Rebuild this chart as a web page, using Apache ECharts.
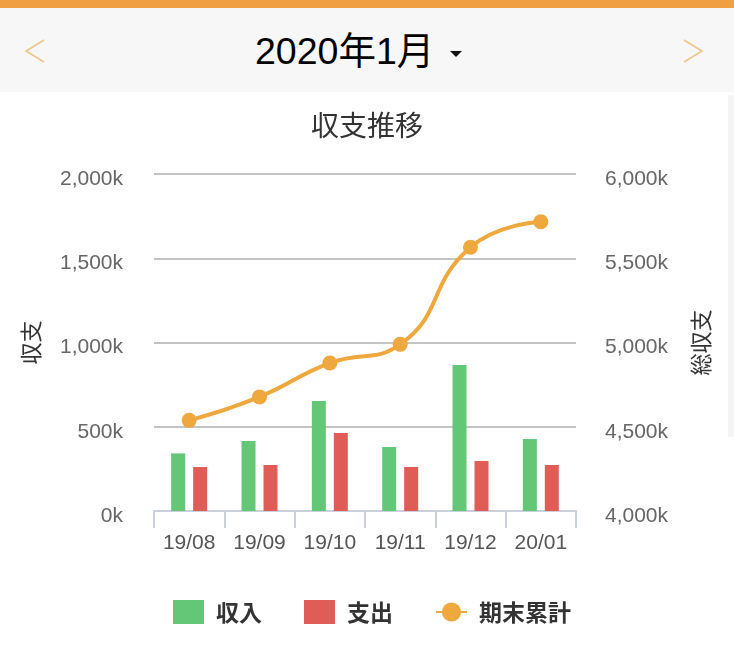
<!DOCTYPE html>
<html>
<head>
<meta charset="utf-8">
<script src="https://cdn.jsdelivr.net/npm/echarts@6/dist/echarts.min.js"></script>
<style>
  html, body { margin: 0; padding: 0; background: #fff; width: 734px; height: 655px; overflow: hidden; }
  #topbar { position: absolute; left: 0; top: 0; width: 734px; height: 8px; background: #f0a043; }
  #header { position: absolute; left: 0; top: 8px; width: 734px; height: 84px; background: #f7f7f7; }
  #month { position: absolute; left: 255px; top: 8px; height: 84px; line-height: 86px; white-space: nowrap;
           font-family: "Liberation Sans", "Noto Sans CJK JP", sans-serif; font-size: 37.5px; color: #000; }
  #deco { position: absolute; left: 0; top: 0; }
  #strip { position: absolute; left: 728px; top: 95px; width: 6px; height: 342px; background: #f4f4f4; }
  #chart { position: absolute; left: 0; top: 0; width: 734px; height: 655px; }
</style>
</head>
<body>
<div id="topbar"></div>
<div id="header"></div>
<div id="month">2020年1月</div>
<svg id="deco" width="734" height="100">
  <polyline points="44,40 26,51 44,62" fill="none" stroke="#efc48a" stroke-width="1.6"/>
  <polyline points="684,40 702,51 684,62" fill="none" stroke="#efc48a" stroke-width="1.6"/>
  <polygon points="450,51 462,51 456,57" fill="#111"/>
</svg>
<div id="strip"></div>
<div id="chart"></div>
<script>
const categories = ['19/08', '19/09', '19/10', '19/11', '19/12', '20/01'];
const income = [342000, 415000, 653000, 380000, 866000, 427000];
const expense = [261000, 273000, 463000, 261000, 297000, 273000];
const cumulative = [4538000, 4677000, 4878000, 4989000, 5565000, 5717000];
const leftTicks = { min: 0, max: 2000000, interval: 500000 };
const rightTicks = { min: 4000000, max: 6000000, interval: 500000 };

const fontLatin = '"Liberation Sans", "Noto Sans CJK JP", sans-serif';
const fontJP = '"Noto Sans CJK JP", sans-serif';
const kFmt = v => '{v|' + (v / 1000).toLocaleString('en-US') + 'k}';
const richV = { v: { fontSize: 21, color: '#666', fontFamily: fontLatin, padding: [10, 0, 0, 0] } };

const chart = echarts.init(document.getElementById('chart'), null, { renderer: 'canvas' });
chart.setOption({
  animation: false,
  backgroundColor: 'transparent',
  title: {
    text: '収支推移',
    left: 'center',
    top: 106,
    textStyle: { fontSize: 28, fontWeight: 'normal', color: '#333', fontFamily: fontJP }
  },
  legend: {
    bottom: 26,
    left: 168,
    itemWidth: 31,
    itemHeight: 24,
    itemGap: 42,
    textStyle: { fontSize: 23, fontWeight: 'bold', color: '#333', fontFamily: fontJP, padding: [0, 0, 0, 7] },
    data: [
      { name: '収入', icon: 'rect' },
      { name: '支出', icon: 'rect' },
      { name: '期末累計' }
    ]
  },
  grid: { left: 154, right: 158, top: 174, bottom: 144 },
  xAxis: {
    type: 'category',
    data: categories,
    boundaryGap: true,
    axisLine: { show: true, lineStyle: { color: '#cad0dc', width: 2 } },
    axisTick: { show: true, length: 17, lineStyle: { color: '#cad0dc', width: 2 } },
    axisLabel: { margin: 22, fontSize: 21, color: '#555', fontFamily: fontLatin }
  },
  yAxis: [
    {
      type: 'value',
      name: '収支',
      nameLocation: 'middle',
      nameGap: 112,
      nameTextStyle: { fontSize: 22, color: '#333', fontFamily: fontJP },
      min: leftTicks.min, max: leftTicks.max, interval: leftTicks.interval,
      axisLine: { show: false },
      axisTick: { show: false },
      axisLabel: { margin: 31, fontSize: 21, color: '#666', fontFamily: fontLatin, formatter: kFmt, rich: richV },
      splitLine: { show: true, lineStyle: { color: '#c4c4c4', width: 2 } }
    },
    {
      type: 'value',
      name: '総収支',
      nameLocation: 'middle',
      nameGap: 114,
      nameTextStyle: { fontSize: 22, color: '#333', fontFamily: fontJP },
      min: rightTicks.min, max: rightTicks.max, interval: rightTicks.interval,
      axisLine: { show: false },
      axisTick: { show: false },
      axisLabel: { margin: 29, fontSize: 21, color: '#666', fontFamily: fontLatin, formatter: kFmt, rich: richV },
      splitLine: { show: false }
    }
  ],
  series: [
    {
      name: '収入', type: 'bar', yAxisIndex: 0, data: income,
      barWidth: 14, barGap: '57%',
      itemStyle: { color: '#64c777' }
    },
    {
      name: '支出', type: 'bar', yAxisIndex: 0, data: expense,
      barWidth: 14, barGap: '57%',
      itemStyle: { color: '#e05c57' }
    },
    {
      name: '期末累計', type: 'line', yAxisIndex: 1, data: cumulative,
      smooth: true,
      symbol: 'circle', symbolSize: 15,
      lineStyle: { color: '#eea83d', width: 4 },
      itemStyle: { color: '#eea83d' },
      z: 5
    }
  ]
});
</script>
</body>
</html>
